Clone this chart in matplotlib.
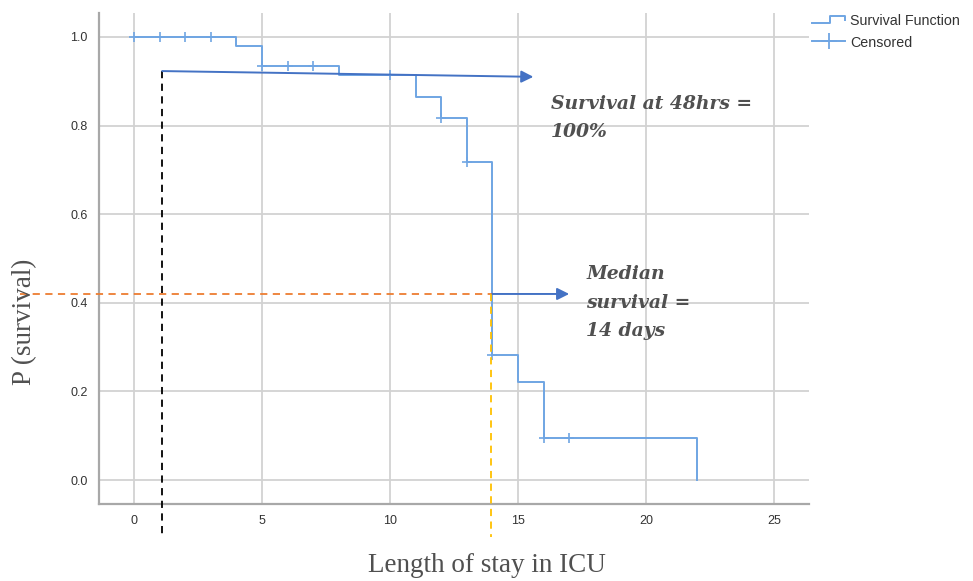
import matplotlib
matplotlib.use("Agg")
import matplotlib.pyplot as plt
from matplotlib.lines import Line2D
from matplotlib.legend_handler import HandlerBase

# ---- data ----
step_times = [0, 4, 5, 8, 11, 12, 13, 14, 15, 16, 22]
step_surv = [1.0, 0.98, 0.935, 0.913, 0.865, 0.816, 0.717, 0.282, 0.2205, 0.094, 0.0]
cens_times = [0, 1, 2, 3, 5, 6, 7, 10, 12, 13, 14, 16, 17]
cens_surv = [1.0, 1.0, 1.0, 1.0, 0.935, 0.935, 0.935, 0.913, 0.816, 0.717, 0.282, 0.094, 0.094]
x_ticks = [0, 5, 10, 15, 20, 25]
y_ticks = [0.0, 0.2, 0.4, 0.6, 0.8, 1.0]
t48 = 1.1
s48_start, s48_end = 0.923, 0.910
arrow1_end_x = 15.6
median_t = 14
median_level = 0.42
arrow2_end_x = 17.0

KM_COLOR = "#6fa5e3"
ARROW_COLOR = "#4472c4"
TEXT_COLOR = "#505050"

fig = plt.figure(figsize=(9.73, 5.81), dpi=100)
ax = fig.add_axes([0.1017, 0.1325, 0.7298, 0.8451])

ax.set_xlim(-1.37, 26.37)
ax.set_ylim(-0.054, 1.054)
ax.set_xticks(x_ticks)
ax.set_yticks(y_ticks)
ax.set_xticklabels([str(t) for t in x_ticks])
ax.set_yticklabels([f"{v:.1f}" for v in y_ticks])
ax.grid(True, color="#d2d2d2", lw=1.3)
ax.set_axisbelow(True)
for s in ["top", "right"]:
    ax.spines[s].set_visible(False)
for s in ["left", "bottom"]:
    ax.spines[s].set_color("#a8a8a8")
    ax.spines[s].set_linewidth(1.6)
ax.tick_params(length=0, labelsize=9, labelcolor="#333333", pad=8,
               labelfontfamily="Liberation Sans")

# KM step
ax.step(step_times, step_surv, where="post", color=KM_COLOR, lw=1.4, zorder=3)
ax.plot(cens_times, cens_surv, ls="none", marker="+", ms=6.5, mew=1.2,
        color=KM_COLOR, zorder=4)

# reference lines
ax.plot([t48, t48], [s48_start, -0.129], ls=(0, (4, 3)), color="black",
        lw=1.3, clip_on=False, zorder=5)
ax.plot([-4.45, median_t], [median_level, median_level], ls=(0, (4, 3)),
        color="#ed7d31", lw=1.3, clip_on=False, zorder=5)
ax.plot([median_t - 0.05, median_t - 0.05], [median_level, -0.129],
        ls=(0, (4, 3)), color="#ffc000", lw=1.3, clip_on=False, zorder=5)

# arrows
ax.annotate("", xy=(arrow1_end_x, s48_end), xytext=(t48, s48_start),
            arrowprops=dict(arrowstyle="-|>", color=ARROW_COLOR, lw=1.4,
                            mutation_scale=18, shrinkA=0, shrinkB=0), zorder=6)
ax.annotate("", xy=(arrow2_end_x, median_level), xytext=(median_t, median_level),
            arrowprops=dict(arrowstyle="-|>", color=ARROW_COLOR, lw=1.4,
                            mutation_scale=18, shrinkA=0, shrinkB=0), zorder=6)

# annotation texts
ax.text(16.3, 0.870, "Survival at 48hrs =\n100%", ha="left", va="top",
        fontsize=13.5, fontweight="bold", fontstyle="italic",
        family="DejaVu Serif", color=TEXT_COLOR, linespacing=1.75)
ax.text(17.66, 0.485, "Median\nsurvival =\n14 days", ha="left", va="top",
        fontsize=13.5, fontweight="bold", fontstyle="italic",
        family="DejaVu Serif", color=TEXT_COLOR, linespacing=1.75)

# axis labels
fig.text(0.5, 0.027, "Length of stay in ICU", ha="center", va="center",
         fontsize=19.5, family="Liberation Serif", color=TEXT_COLOR)
fig.text(0.025, 0.446, "P (survival)", ha="center", va="center", rotation=90,
         fontsize=19.5, family="Liberation Serif", color=TEXT_COLOR)


# legend with step-shaped handle
class StepHandler(HandlerBase):
    def create_artists(self, legend, orig_handle, xdescent, ydescent,
                       width, height, fontsize, trans):
        x0, x1 = -xdescent, -xdescent + width
        ylo = -ydescent + height * 0.2
        yhi = -ydescent + height * 0.9
        xm = x0 + width * 0.55
        line = Line2D([x0, xm, xm, x1, x1], [ylo, ylo, yhi, yhi, ylo + height * 0.35],
                      color=KM_COLOR, lw=1.4, transform=trans)
        return [line]


h1 = Line2D([], [], color=KM_COLOR)
h2 = Line2D([0], [0], color=KM_COLOR, lw=1.4, marker="+", ms=11, mew=1.3)
fig.legend([h1, h2], ["Survival Function", "Censored"],
           handler_map={h1: StepHandler()},
           loc="upper left", bbox_to_anchor=(0.823, 0.995), frameon=False,
           handlelength=2.3, handletextpad=0.35,
           labelspacing=0.5, borderaxespad=0.4,
           prop={"family": "Liberation Sans", "size": 10.3},
           labelcolor="#333333")

fig.savefig("out.png", dpi=100)
